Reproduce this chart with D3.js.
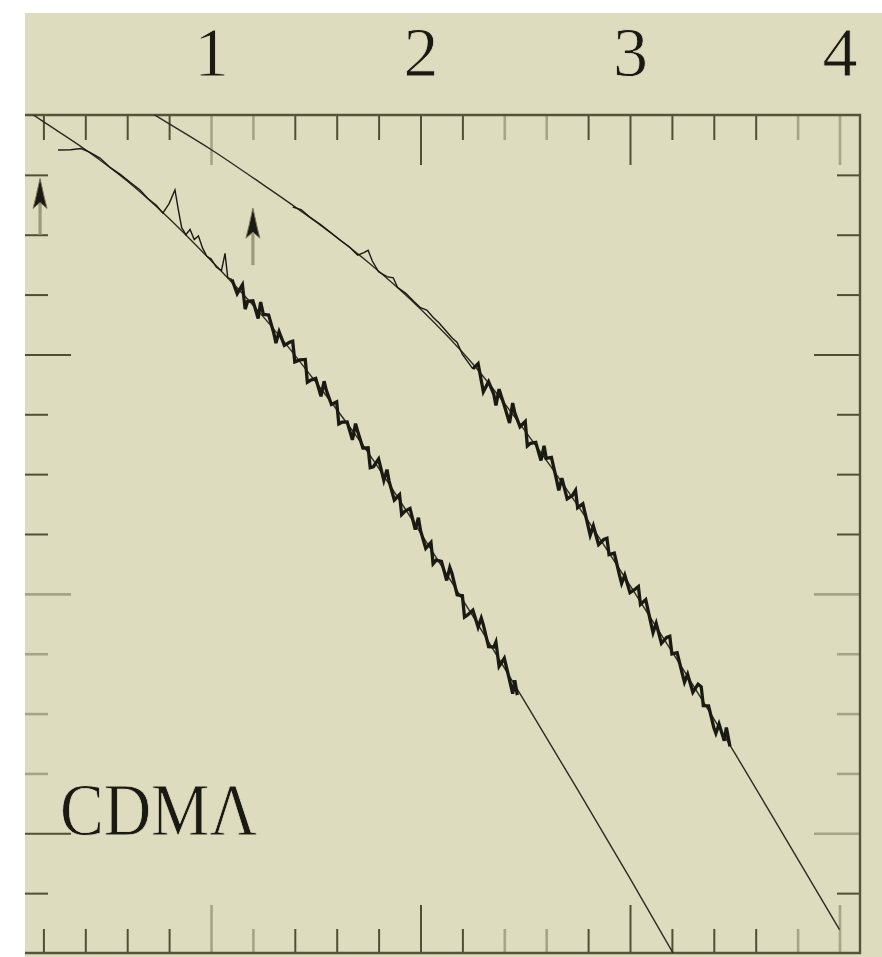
<!DOCTYPE html>
<html>
<head>
<meta charset="utf-8">
<script src="https://cdn.jsdelivr.net/npm/d3@7"></script>
<style>
  html, body { margin: 0; padding: 0; background: #ffffff; }
  svg { display: block; }
</style>
</head>
<body>
<svg id="chart" width="882" height="957"></svg>
<script>
// ---- axis ticks ----
const xLabels = [1, 2, 3, 4];
const xMinorTicks = [0.2, 0.4, 0.6, 0.8, 1.2, 1.4, 1.6, 1.8, 2.2, 2.4, 2.6, 2.8, 3.2, 3.4, 3.6, 3.8];
const yMajorTicks = [-1, -2, -3];
const yMinorTicks = [-0.25, -0.5, -0.75, -1.25, -1.5, -1.75, -2.25, -2.5, -2.75, -3.25];

// ---- model curves [x, y] ----
const modelA = [[0.1, 0.03], [0.2, -0.028], [0.4, -0.144], [0.6, -0.276], [0.8, -0.432], [1.0, -0.608],
  [1.25, -0.843], [1.5, -1.115], [1.75, -1.41], [2.0, -1.745], [2.25, -2.093], [2.5, -2.453],
  [2.75, -2.818], [3.0, -3.188], [3.25, -3.568], [3.35, -3.72]];
const modelB = [[0.7, 0.017], [0.75, -0.01], [1.0, -0.144], [1.25, -0.292], [1.5, -0.446], [1.75, -0.615],
  [2.0, -0.81], [2.25, -1.04], [2.5, -1.32], [2.75, -1.63], [3.0, -1.965], [3.25, -2.31],
  [3.5, -2.665], [3.75, -3.033], [4.0, -3.402]];

// ---- measured series [x, y] ----
const dataA = [[0.27, -0.146], [0.33, -0.145], [0.38, -0.140], [0.42, -0.155], [0.47, -0.180], [0.52, -0.220],
  [0.57, -0.250], [0.62, -0.285], [0.66, -0.312], [0.70, -0.350], [0.74, -0.378], [0.77, -0.410],
  [0.80, -0.370], [0.828, -0.313], [0.845, -0.400], [0.86, -0.470], [0.88, -0.500], [0.90, -0.478],
  [0.92, -0.520], [0.94, -0.505], [0.96, -0.556], [0.98, -0.590], [1.00, -0.600], [1.025, -0.635],
  [1.05, -0.650], [1.067, -0.578], [1.08, -0.680],
  [1.100, -0.687], [1.125, -0.746], [1.150, -0.709], [1.163, -0.811], [1.175, -0.778], [1.200, -0.776],
  [1.225, -0.850], [1.237, -0.781], [1.250, -0.833], [1.275, -0.835], [1.300, -0.912], [1.310, -0.953],
  [1.325, -0.905], [1.350, -0.962], [1.375, -0.949], [1.390, -0.945], [1.400, -1.031], [1.425, -1.023],
  [1.450, -1.021], [1.460, -1.116], [1.475, -1.108], [1.500, -1.100], [1.525, -1.175], [1.540, -1.112],
  [1.550, -1.149], [1.575, -1.209], [1.600, -1.198], [1.610, -1.290], [1.625, -1.283], [1.650, -1.282],
  [1.675, -1.357], [1.690, -1.289], [1.700, -1.321], [1.725, -1.391], [1.750, -1.390], [1.760, -1.473],
  [1.775, -1.469], [1.800, -1.437], [1.825, -1.526], [1.840, -1.481], [1.850, -1.529], [1.875, -1.608],
  [1.900, -1.586], [1.910, -1.669], [1.925, -1.655], [1.950, -1.643], [1.975, -1.732], [1.990, -1.682],
  [2.000, -1.735], [2.025, -1.810], [2.050, -1.785], [2.060, -1.874], [2.075, -1.859], [2.100, -1.864],
  [2.125, -1.944], [2.140, -1.890], [2.150, -1.914], [2.175, -2.004], [2.200, -2.008], [2.210, -2.097],
  [2.225, -2.088], [2.250, -2.068], [2.275, -2.139], [2.290, -2.101], [2.300, -2.130], [2.325, -2.221],
  [2.350, -2.222], [2.360, -2.201], [2.375, -2.303], [2.400, -2.269], [2.425, -2.360], [2.440, -2.417],
  [2.450, -2.361], [2.462, -2.423]];
const dataB = [[1.39, -0.385], [1.43, -0.395], [1.47, -0.425], [1.52, -0.455], [1.57, -0.490], [1.62, -0.525],
  [1.66, -0.550], [1.70, -0.585], [1.73, -0.575], [1.75, -0.565], [1.77, -0.610], [1.80, -0.655],
  [1.84, -0.675], [1.87, -0.680], [1.89, -0.720], [1.93, -0.745], [1.97, -0.780], [2.00, -0.805],
  [2.03, -0.815], [2.06, -0.845], [2.09, -0.870], [2.12, -0.900], [2.15, -0.930], [2.175, -0.950],
  [2.20, -1.000], [2.225, -1.030],
  [2.250, -1.060], [2.275, -1.038], [2.300, -1.156], [2.325, -1.114], [2.350, -1.167], [2.360, -1.213],
  [2.375, -1.145], [2.400, -1.213], [2.425, -1.286], [2.440, -1.203], [2.450, -1.244], [2.475, -1.302],
  [2.500, -1.280], [2.510, -1.382], [2.525, -1.371], [2.550, -1.367], [2.575, -1.443], [2.590, -1.382],
  [2.600, -1.434], [2.625, -1.430], [2.650, -1.526], [2.660, -1.568], [2.675, -1.517], [2.700, -1.603],
  [2.725, -1.589], [2.740, -1.568], [2.750, -1.640], [2.775, -1.624], [2.800, -1.717], [2.810, -1.755],
  [2.825, -1.716], [2.850, -1.794], [2.875, -1.773], [2.890, -1.768], [2.900, -1.836], [2.925, -1.830],
  [2.950, -1.923], [2.960, -1.956], [2.975, -1.922], [3.000, -1.995], [3.025, -1.980], [3.040, -1.970],
  [3.050, -2.044], [3.075, -2.024], [3.100, -2.123], [3.110, -2.162], [3.125, -2.123], [3.150, -2.207],
  [3.175, -2.182], [3.190, -2.177], [3.200, -2.251], [3.225, -2.246], [3.250, -2.335], [3.260, -2.369],
  [3.275, -2.336], [3.300, -2.411], [3.325, -2.377], [3.340, -2.388], [3.350, -2.467], [3.375, -2.468],
  [3.400, -2.558], [3.410, -2.582], [3.425, -2.544], [3.450, -2.614], [3.460, -2.558], [3.477, -2.637]];

// ---- upper limits: x, base of arrow, tip of arrow ----
const limitX = [0.184, 1.2];
const limitBase = [-0.50, -0.627];
const limitTip = [-0.265, -0.389];

const curveLabel = "CDMΛ";

// ---- layout ----
const W = 882, H = 957;
const plot = { left: 25, right: 860, top: 115, bottom: 953 };
const bg = "#dedcbf";
const ink = "#1a1a12", tickDark = "#504f36", tickFaint = "#a6a487", frameCol = "#55543a";
const faintX = [1, 1.2, 2.4, 2.6, 3.8, 4];
const faintYLeft = [-2, -2.25, -2.5, -2.75];
const faintYRight = [-2, -2.25, -2.5, -2.75, -3];
const denseFrom = [1.09, 2.24];   // where each sampled series becomes densely populated
const isIn = (list, v) => list.some(d => Math.abs(d - v) < 1e-6);
const serif = "'Liberation Serif', 'DejaVu Serif', serif";

const x = d3.scaleLinear().domain([0, 4]).range([1.5, 839.5]);
const y = d3.scaleLinear().domain([0, -3.5]).range([plot.top, plot.bottom]);

const svg = d3.select("#chart");

svg.append("rect").attr("x", 25).attr("y", 13).attr("width", W - 25).attr("height", H - 13)
  .attr("fill", bg);

svg.append("clipPath").attr("id", "plotClip").append("rect")
  .attr("x", plot.left).attr("y", plot.top)
  .attr("width", plot.right - plot.left).attr("height", plot.bottom - plot.top);

// ---- ticks ----
function styleAxis(g, faintList) {
  g.select(".domain").remove();
  g.selectAll(".tick line")
    .attr("stroke", d => isIn(faintList, d) ? tickFaint : tickDark)
    .attr("stroke-width", d => isIn(faintList, d) ? 2.6 : 2);
}

// top
svg.append("g").attr("transform", `translate(0,${plot.top})`)
  .call(d3.axisTop(x).tickValues(xMinorTicks).tickSize(-25).tickSizeOuter(0).tickFormat(""))
  .call(g => styleAxis(g, faintX));
svg.append("g").attr("transform", `translate(0,${plot.top})`)
  .call(d3.axisTop(x).tickValues(xLabels).tickSize(-50).tickSizeOuter(0).tickPadding(39).tickFormat(d3.format("d")))
  .call(g => styleAxis(g, faintX))
  .call(g => g.selectAll(".tick text")
    .attr("font-family", serif)
    .attr("font-size", 70).attr("fill", ink)
    .attr("stroke", bg).attr("stroke-width", 0.8));

// bottom
svg.append("g").attr("transform", `translate(0,${plot.bottom})`)
  .call(d3.axisBottom(x).tickValues(xMinorTicks).tickSize(-24).tickSizeOuter(0).tickFormat(""))
  .call(g => styleAxis(g, faintX));
svg.append("g").attr("transform", `translate(0,${plot.bottom})`)
  .call(d3.axisBottom(x).tickValues(xLabels).tickSize(-48).tickSizeOuter(0).tickFormat(""))
  .call(g => styleAxis(g, faintX));

// left
svg.append("g").attr("transform", `translate(${plot.left},0)`)
  .call(d3.axisLeft(y).tickValues(yMinorTicks).tickSize(-23).tickSizeOuter(0).tickFormat(""))
  .call(g => styleAxis(g, faintYLeft));
svg.append("g").attr("transform", `translate(${plot.left},0)`)
  .call(d3.axisLeft(y).tickValues(yMajorTicks).tickSize(-46).tickSizeOuter(0).tickFormat(""))
  .call(g => styleAxis(g, faintYLeft));

// right
svg.append("g").attr("transform", `translate(${plot.right},0)`)
  .call(d3.axisRight(y).tickValues(yMinorTicks).tickSize(-23).tickSizeOuter(0).tickFormat(""))
  .call(g => styleAxis(g, faintYRight));
svg.append("g").attr("transform", `translate(${plot.right},0)`)
  .call(d3.axisRight(y).tickValues(yMajorTicks).tickSize(-46).tickSizeOuter(0).tickFormat(""))
  .call(g => styleAxis(g, faintYRight));

// ---- frame (top, right, bottom) ----
svg.append("path")
  .attr("d", `M${plot.left},${plot.top}H${plot.right}V${plot.bottom}H${plot.left}`)
  .attr("fill", "none").attr("stroke", frameCol).attr("stroke-width", 2.4);

// ---- curves ----
const plotG = svg.append("g").attr("clip-path", "url(#plotClip)");

const smooth = d3.line().x(d => x(d[0])).y(d => y(d[1])).curve(d3.curveMonotoneX);
const jagged = d3.line().x(d => x(d[0])).y(d => y(d[1]));

[modelA, modelB].forEach(m => {
  plotG.append("path").attr("d", smooth(m))
    .attr("fill", "none").attr("stroke", "#2c2b20").attr("stroke-width", 1.4);
});
[dataA, dataB].forEach((s, i) => {
  const sparse = s.filter(d => d[0] <= denseFrom[i] + 0.02);
  const dense = s.filter(d => d[0] >= denseFrom[i]);
  plotG.append("path").attr("d", jagged(sparse))
    .attr("fill", "none").attr("stroke", ink).attr("stroke-width", 1.4)
    .attr("stroke-linejoin", "miter").attr("stroke-miterlimit", 6);
  plotG.append("path").attr("d", jagged(dense))
    .attr("fill", "none").attr("stroke", ink).attr("stroke-width", 3.3)
    .attr("stroke-linejoin", "miter").attr("stroke-miterlimit", 4);
});

// ---- upper-limit arrows ----
limitX.forEach((lx, i) => {
  const px = x(lx), pBase = y(limitBase[i]), pTip = y(limitTip[i]);
  plotG.append("line").attr("x1", px).attr("x2", px).attr("y1", pBase).attr("y2", pTip + 16)
    .attr("stroke", "#9c9a7b").attr("stroke-width", 3.2);
  plotG.append("path")
    .attr("d", `M${px},${pTip}L${px + 4},${pTip + 18}L${px + 7},${pTip + 30}L${px},${pTip + 24}L${px - 7},${pTip + 30}L${px - 4},${pTip + 18}Z`)
    .attr("fill", ink).attr("stroke", "#77755c").attr("stroke-width", 1);
});

// ---- model label ----
svg.append("text")
  .attr("x", 60).attr("y", 835)
  .attr("font-family", serif)
  .attr("font-size", 74)
  .attr("textLength", 197).attr("lengthAdjust", "spacingAndGlyphs")
  .attr("fill", ink)
  .attr("stroke", bg).attr("stroke-width", 0.8)
  .text(curveLabel);
</script>
</body>
</html>
